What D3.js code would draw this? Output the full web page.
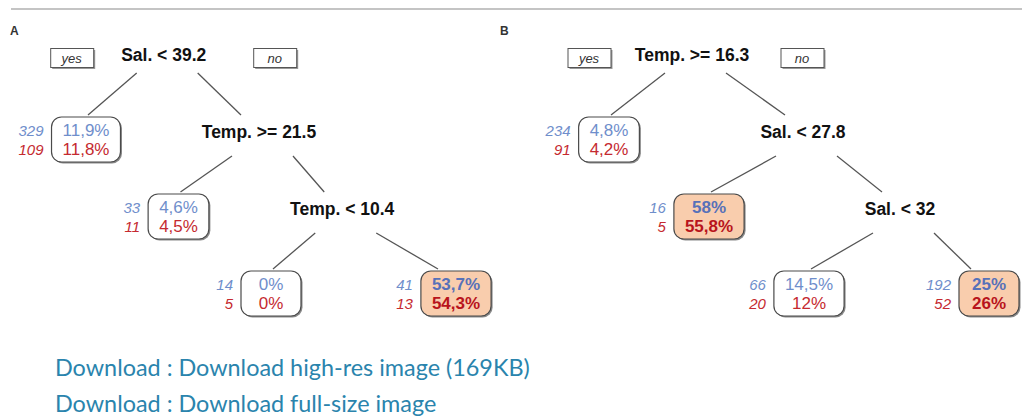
<!DOCTYPE html>
<html>
<head>
<meta charset="utf-8">
<script src="https://cdn.jsdelivr.net/npm/d3@7"></script>
<style>
  body { margin: 0; background: #fff; }
  svg { display: block; }
  .split { font-family: "Liberation Sans", Arial, sans-serif; font-weight: bold; font-size: 17.5px; fill: #111; }
  .pct { font-family: "Liberation Sans", Arial, sans-serif; font-size: 17px; }
  .cnt { font-family: "Liberation Sans", Arial, sans-serif; font-size: 15px; font-style: italic; }
  .yn { font-family: "Liberation Sans", Arial, sans-serif; font-size: 13px; font-style: italic; fill: #333; }
  .panel { font-family: "Liberation Sans", Arial, sans-serif; font-weight: bold; font-size: 12px; fill: #333; }
  .dl { font-family: Lato, "Open Sans", sans-serif; font-size: 23.4px; fill: #2a84ad; }
</style>
</head>
<body>
<div id="chart"></div>
<script>
// tree A: each split sends "yes" to a leaf and "no" to the next split
var splitsA = ["Sal. < 39.2", "Temp. >= 21.5", "Temp. < 10.4"];
var nBlueA = [329, 33, 14, 41];
var nRedA = [109, 11, 5, 13];
var pBlueA = ["11,9%", "4,6%", "0%", "53,7%"];
var pRedA = ["11,8%", "4,5%", "0%", "54,3%"];

// tree B
var splitsB = ["Temp. >= 16.3", "Sal. < 27.8", "Sal. < 32"];
var nBlueB = [234, 16, 66, 192];
var nRedB = [91, 5, 20, 52];
var pBlueB = ["4,8%", "58%", "14,5%", "25%"];
var pRedB = ["4,2%", "55,8%", "12%", "26%"];

var links = ["Download : Download high-res image (169KB)", "Download : Download full-size image"];

var W = 1022, H = 416;

var svg = d3.select("#chart")
    .append("svg")
    .attr("width", W)
    .attr("height", H);

// top rule
svg.append("line")
    .attr("x1", 11).attr("x2", W)
    .attr("y1", 9).attr("y2", 9)
    .attr("stroke", "#c4c4c4")
    .attr("stroke-width", 2);

// depth -> baseline of the node label
var y = d3.scaleLinear().domain([0, 3]).range([61, 292]);

// node fill follows the leaf value
var fill = d3.scaleThreshold().domain([20]).range(["#ffffff", "#f9cdad"]);

function num(s) { return +s.replace("%", "").replace(",", "."); }

function drawTree(g, splits, nBlue, nRed, pBlue, pRed, x, splitSlots, leafSlots, ynOff) {
    // build node list
    var nodes = [];
    splits.forEach(function (s, i) {
        nodes.push({ type: "split", label: s, depth: i, slot: splitSlots[i] });
    });
    nBlue.forEach(function (n, i) {
        nodes.push({
            type: "leaf", depth: Math.min(i + 1, 3), slot: leafSlots[i],
            nb: n, nr: nRed[i], pb: pBlue[i], pr: pRed[i]
        });
    });
    var split = nodes.filter(function (d) { return d.type == "split"; });
    var leaf = nodes.filter(function (d) { return d.type == "leaf"; });

    // edges: split i -> leaf i (yes), split i -> split i+1 / last leaf (no)
    var edges = [];
    split.forEach(function (s, i) {
        edges.push({ p: s, c: leaf[i], side: -1 });
        edges.push({ p: s, c: i < split.length - 1 ? split[i + 1] : leaf[i + 1], side: 1 });
    });

    g.selectAll(".edge")
        .data(edges)
        .enter()
        .append("line")
        .attr("class", "edge")
        .attr("x1", function (d) { return x(d.p.slot) + (d.side < 0 ? -27 : 34); })
        .attr("y1", function (d) { return y(d.p.depth) + (d.p.depth == 0 ? 12 : 18); })
        .attr("x2", function (d) { return x(d.c.slot) + (d.side < 0 ? 2 : -18); })
        .attr("y2", function (d) { return y(d.c.depth) - 23; })
        .attr("stroke", "#555")
        .attr("stroke-width", 1.3);

    g.selectAll(".split")
        .data(split)
        .enter()
        .append("text")
        .attr("class", "split")
        .attr("text-anchor", "middle")
        .attr("x", function (d) { return x(d.slot); })
        .attr("y", function (d) { return y(d.depth); })
        .text(function (d) { return d.label; });

    // yes / no tags beside the root
    var root = split[0];
    [["yes", ynOff[0]], ["no", ynOff[1]]].forEach(function (t) {
        var cx = x(root.slot) + t[1], cy = y(0) - 3;
        g.append("rect")
            .attr("x", cx - 21 + 1.5).attr("y", cy - 9.5 + 1.5)
            .attr("width", 43).attr("height", 19)
            .attr("fill", "#999");
        g.append("rect")
            .attr("x", cx - 21).attr("y", cy - 9.5)
            .attr("width", 43).attr("height", 19)
            .attr("fill", "#fff")
            .attr("stroke", "#555")
            .attr("stroke-width", 1);
        g.append("text")
            .attr("class", "yn")
            .attr("text-anchor", "middle")
            .attr("x", cx).attr("y", cy + 4.5)
            .text(t[0]);
    });

    var lg = g.selectAll(".leaf")
        .data(leaf)
        .enter()
        .append("g")
        .attr("class", "leaf")
        .attr("transform", function (d) { return "translate(" + x(d.slot) + "," + y(d.depth) + ")"; });

    lg.each(function (d) {
        var el = d3.select(this);
        var hot = num(d.pb) >= 20;
        var t1 = el.append("text").attr("class", "pct").attr("text-anchor", "middle")
            .attr("y", -2).style("font-weight", hot ? "bold" : "normal")
            .attr("fill", hot ? "#5771b9" : "#6f8ecb").text(d.pb);
        var t2 = el.append("text").attr("class", "pct").attr("text-anchor", "middle")
            .attr("y", 17).style("font-weight", hot ? "bold" : "normal")
            .attr("fill", hot ? "#b8141c" : "#c52a30").text(d.pr);
        var tw = Math.max(t1.node().getComputedTextLength(), t2.node().getComputedTextLength());
        var bw = Math.max(60, tw + 22);
        el.insert("rect", "text")
            .attr("x", -bw / 2).attr("y", -21)
            .attr("width", bw).attr("height", 45)
            .attr("rx", 10)
            .attr("fill", fill(num(d.pb)))
            .attr("stroke", "#4a4a4a")
            .attr("stroke-width", 1.2);
        el.insert("rect", "rect")
            .attr("x", -bw / 2 + 1.5).attr("y", -21 + 1.5)
            .attr("width", bw).attr("height", 45)
            .attr("rx", 10)
            .attr("fill", "#8a8a8a");
        el.append("text").attr("class", "cnt").attr("text-anchor", "end")
            .attr("x", -bw / 2 - 8).attr("y", -2)
            .attr("fill", "#6f8ecb").text(d.nb);
        el.append("text").attr("class", "cnt").attr("text-anchor", "end")
            .attr("x", -bw / 2 - 8).attr("y", 17)
            .attr("fill", "#c52a30").text(d.nr);
    });
}

// panel A
var gA = svg.append("g");
gA.append("text").attr("class", "panel").attr("x", 10).attr("y", 35).text("A");
var xA = d3.scaleLinear().domain([0, 4]).range([86, 456]);
drawTree(gA, splitsA, nBlueA, nRedA, pBlueA, pRedA, xA,
    [0.84, 1.87, 2.77], [0, 1, 2, 4], [-92, 111]);

// panel B
var gB = svg.append("g");
gB.append("text").attr("class", "panel").attr("x", 500).attr("y", 35).text("B");
var xB = d3.scaleLinear().domain([0, 3.8]).range([609, 989]);
drawTree(gB, splitsB, nBlueB, nRedB, pBlueB, pRedB, xB,
    [0.83, 1.94, 2.91], [0, 1, 2, 3.8], [-103, 110]);

// download links
svg.selectAll(".dl")
    .data(links)
    .enter()
    .append("text")
    .attr("class", "dl")
    .attr("x", 55)
    .attr("y", function (d, i) { return 376 + i * 36; })
    .text(function (d) { return d; });
</script>
</body>
</html>
